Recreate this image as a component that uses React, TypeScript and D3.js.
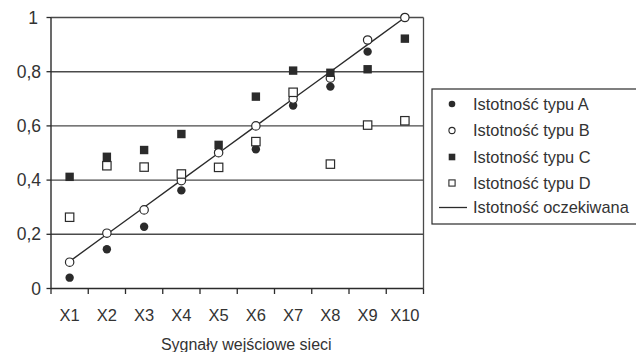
import React from "react";
import * as d3 from "d3";

const categories = ["X1", "X2", "X3", "X4", "X5", "X6", "X7", "X8", "X9", "X10"];
const typeA = [0.04, 0.145, 0.228, 0.362, 0.505, 0.514, 0.675, 0.745, 0.874, 1.0];
const typeB = [0.097, 0.204, 0.29, 0.398, 0.501, 0.6, 0.699, 0.776, 0.917, 1.0];
const typeC = [0.412, 0.486, 0.511, 0.57, 0.53, 0.708, 0.804, 0.796, 0.809, 0.922];
const typeD = [0.263, 0.453, 0.448, 0.4225, 0.447, 0.542, 0.724, 0.459, 0.603, 0.619];
const expected = [0.1, 0.2, 0.3, 0.4, 0.5, 0.6, 0.7, 0.8, 0.9, 1.0];
const yTicks = [0, 0.2, 0.4, 0.6, 0.8, 1];
const legendLabels = [
  "Istotność typu A",
  "Istotność typu B",
  "Istotność typu C",
  "Istotność typu D",
  "Istotność oczekiwana",
];
const xTitle = "Sygnały wejściowe sieci";

const W = 636;
const H = 352;
const left = 51;
const right = 423.5;
const top = 17.5;
const bottom = 288.5;
const ink = "#2b2b2b";
const grid = "#4a4a4a";
const font = "'Liberation Sans', Arial, sans-serif";

export default function App() {
  const x = d3.scaleBand<string>().domain(categories).range([left, right]).padding(0);
  const y = d3.scaleLinear().domain([0, 1]).range([bottom, top]);
  const cx = (i: number) => (x(categories[i]) as number) + x.bandwidth() / 2;
  const fmt = (v: number) => (v === 0 ? "0" : v === 1 ? "1" : d3.format(".1f")(v).replace(".", ","));
  const line = d3
    .line<number>()
    .x((_, i) => cx(i))
    .y((d) => y(d));
  const ms = 8.4;

  const legX = 452;
  const legTextX = 473;
  const legY = [104, 130.5, 157, 183, 207.5];

  return (
    <svg
      width={W}
      height={H}
      style={{ position: "absolute", left: 0, top: 0, background: "#fff" }}
      fontFamily={font}
    >
      <rect x={0} y={0} width={W} height={H} fill="#fff" />
      {yTicks.map((t) => (
        <g key={"g" + t}>
          {t > 0 && (
            <line x1={left} x2={right} y1={y(t)} y2={y(t)} stroke={grid} strokeWidth={1.4} />
          )}
          <line x1={left - 4.5} x2={left} y1={y(t)} y2={y(t)} stroke={ink} strokeWidth={1.3} />
          <text
            x={t === 1 ? 38 : 41}
            y={y(t) + 6}
            textAnchor="end"
            fontSize={17.5}
            fill="#333"
          >
            {fmt(t)}
          </text>
        </g>
      ))}
      <line x1={left} x2={left} y1={top} y2={bottom} stroke={ink} strokeWidth={1.4} />
      <line x1={right} x2={right} y1={top} y2={bottom} stroke={grid} strokeWidth={1.3} />
      <line x1={left} x2={right} y1={bottom} y2={bottom} stroke={ink} strokeWidth={1.4} />
      {categories.map((c) => (
        <line
          key={"t" + c}
          x1={x(c) as number}
          x2={x(c) as number}
          y1={bottom}
          y2={bottom + 5.5}
          stroke={ink}
          strokeWidth={1.3}
        />
      ))}
      <line x1={right} x2={right} y1={bottom} y2={bottom + 5.5} stroke={ink} strokeWidth={1.3} />
      {categories.map((c, i) => (
        <text key={"l" + c} x={cx(i)} y={320.5} textAnchor="middle" fontSize={16.5} fill="#333">
          {c}
        </text>
      ))}
      <text x={(left + right) / 2 + 9} y={349.5} textAnchor="middle" fontSize={16} fill="#333">
        {xTitle}
      </text>

      <path d={line(expected) as string} fill="none" stroke={ink} strokeWidth={1.4} />

      {typeA.map((v, i) => (
        <circle key={"a" + i} cx={cx(i)} cy={y(v)} r={ms / 2} fill={ink} />
      ))}
      {typeB.map((v, i) => (
        <circle key={"b" + i} cx={cx(i)} cy={y(v)} r={ms / 2} fill="#fff" stroke={ink} strokeWidth={1.2} />
      ))}
      {typeC.map((v, i) => (
        <rect
          key={"c" + i}
          x={cx(i) - ms / 2}
          y={y(v) - ms / 2}
          width={ms}
          height={ms}
          fill={ink}
        />
      ))}
      {typeD.map((v, i) => (
        <rect
          key={"d" + i}
          x={cx(i) - ms / 2}
          y={y(v) - ms / 2}
          width={ms}
          height={ms}
          fill="#fff"
          stroke={ink}
          strokeWidth={1.2}
        />
      ))}

      <rect x={432} y={89} width={220} height={135} fill="#fff" stroke={ink} strokeWidth={1.2} />
      <circle cx={legX} cy={legY[0]} r={3.3} fill={ink} />
      <circle cx={legX} cy={legY[1]} r={3.1} fill="#fff" stroke={ink} strokeWidth={1.1} />
      <rect x={legX - 3.3} y={legY[2] - 3.3} width={6.6} height={6.6} fill={ink} />
      <rect x={legX - 3.1} y={legY[3] - 3.1} width={6.2} height={6.2} fill="#fff" stroke={ink} strokeWidth={1.1} />
      <line x1={439} x2={467} y1={legY[4]} y2={legY[4]} stroke={ink} strokeWidth={1.3} />
      {legendLabels.map((l, i) => (
        <text key={"lg" + i} x={legTextX} y={legY[i] + 5.8} fontSize={16.4} fill="#333">
          {l}
        </text>
      ))}
    </svg>
  );
}
